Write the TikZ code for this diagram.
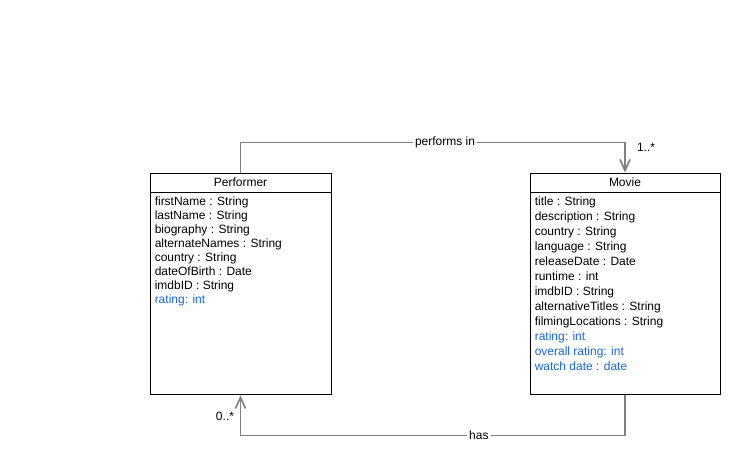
\documentclass[tikz,border=0pt]{standalone}
\usepackage{fontspec}
\setmainfont{Liberation Sans}
\usetikzlibrary{positioning,arrows.meta}
\definecolor{attrblue}{HTML}{1A66D6}
\definecolor{linkgray}{HTML}{808080}

\begin{document}
\begin{tikzpicture}[x=1pt,y=-1pt]
    \tikzstyle{head}=[draw, line width=0.9pt, minimum height=19pt, inner sep=0pt, font=\fontsize{12}{14}\selectfont]
    \tikzstyle{body}=[draw, line width=0.9pt, minimum height=202pt, inner sep=0pt]
    \tikzstyle{attrs}=[align=left, inner sep=0pt, anchor=north west]
    \tikzstyle{assoc}=[draw=linkgray, line width=1.7pt, -{Straight Barb[length=11pt,width=10pt]}]
    \tikzstyle{lbl}=[fill=white, inner sep=2pt, font=\fontsize{12}{14}\selectfont]

    \useasboundingbox (0,0) rectangle (742,461);

    \node[head, minimum width=181pt] (performer) at (240.5,182.5) {Performer};
    \node[body, minimum width=181pt, below=0pt of performer] (performerAttr) {};
    \node[attrs, font=\fontsize{12}{14}\selectfont, below right=4pt and 5pt of performerAttr.north west] (performerList) {%
      firstName : String\\ lastName : String\\ biography : String\\
      alternateNames : String\\ country : String\\ dateOfBirth : Date\\
      imdbID : String\\ \textcolor{attrblue}{rating: int}};

    \node[head, minimum width=190pt] (movie) at (625,182.5) {Movie};
    \node[body, minimum width=190pt, below=0pt of movie] (movieAttr) {};
    \node[attrs, font=\fontsize{12}{15}\selectfont, below right=4pt and 5pt of movieAttr.north west] (movieList) {%
      title : String\\ description : String\\ country : String\\
      language : String\\ releaseDate : Date\\ runtime : int\\
      imdbID : String\\ alternativeTitles : String\\ filmingLocations : String\\
      \textcolor{attrblue}{rating: int}\\ \textcolor{attrblue}{overall rating: int}\\
      \textcolor{attrblue}{watch date : date}};

    \path[assoc] (performer.north) -- ++(0,-30) -| node[lbl, pos=0.266] {performs in} (movie.north);
    \path[assoc] (movieAttr.south) -- ++(0,40) -| node[lbl, pos=0.19] {has} (performerAttr.south);

    \node[lbl, fill=none] (toMany) at (646,147) {1..*};
    \node[lbl, fill=none] (fromMany) at (225,416) {0..*};
  \end{tikzpicture}
\end{document}
